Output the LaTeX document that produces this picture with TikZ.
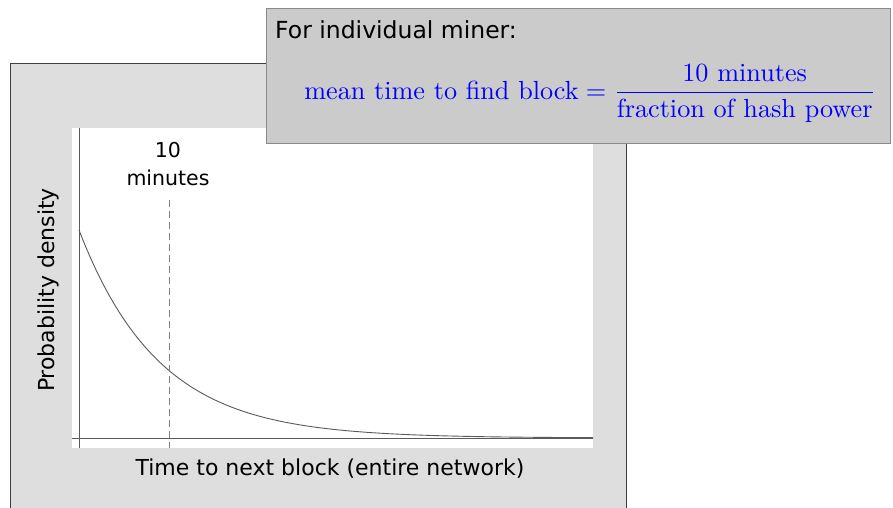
\documentclass[tikz,border=0pt]{standalone}
\usepackage{fontspec}
\usepackage{xcolor}
\usepackage{tikz}
\usetikzlibrary{positioning}
\newfontfamily\comic{DejaVu Sans}

\definecolor{panelgray}{HTML}{DEDEDE}
\definecolor{notegray}{HTML}{CBCBCB}
\definecolor{noteedge}{HTML}{8A8A8A}
\definecolor{axisgray}{HTML}{5A5A5A}
\definecolor{mathblue}{HTML}{0000FF}

\tikzset{
  panel/.style={fill=panelgray, draw=black!75, line width=0.9pt},
  plotarea/.style={fill=white, draw=none},
  note/.style={rectangle, fill=notegray, draw=noteedge, line width=1pt, inner sep=0pt},
  lbl/.style={font=\comic\fontsize{22}{28}\selectfont, inner sep=0pt},
  tick/.style={font=\comic\fontsize{20.5}{28}\selectfont, inner sep=0pt},
  head/.style={font=\comic\fontsize{23.5}{28}\selectfont, inner sep=0pt},
  axis/.style={draw=axisgray, line width=0.8pt},
  curve/.style={draw=axisgray, line width=0.9pt},
  guide/.style={draw=gray, line width=1pt, dash pattern=on 7pt off 4pt}
}

\begin{document}
\begin{tikzpicture}[x=1pt, y=-1pt]
	\path[use as bounding box, clip] (0,0) rectangle (893,507);

	% Plot panel
	\draw[panel] (10,520) -- (10,63) -- (626,63) -- (626,520);
	\fill[plotarea] (72,128) rectangle (593,448);

	% Axes
	\coordinate (ytop) at (79,128);
	\coordinate (ybot) at (79,448);
	\coordinate (xleft) at (72,438);
	\coordinate (xright) at (593,438);
	\draw[axis] (ytop) -- (ybot);
	\draw[axis] (xleft) -- (xright);

	% Density curve
	\draw[curve] plot[domain=79:593, samples=120, smooth] (\x, {438-208*exp(-(\x-79)/80)});

	% Mean marker
	\node[tick, align=center] (mean) at (168,164) {10\\minutes};
	\coordinate (dtop) at (169,200);
	\coordinate (dbot) at (169,448);
	\draw[guide] (dtop) -- (dbot);

	% Axis labels
	\node[lbl, rotate=90] (ylab) at (48,290) {Probability density};
	\node[lbl] (xlab) at (330,469) {Time to next block (entire network)};

	% Note box
	\node[note, minimum width=624pt, minimum height=135pt, anchor=north west] (box) at (266,8) {};
	\node[head, anchor=west] (title) at (275,30) {For individual miner:};
	\node[text=mathblue, scale=2.62, inner sep=0pt] (eq) at (590,93)
		{$\mbox{mean time to find block} = \displaystyle\frac{\mbox{10 minutes}}{\mbox{fraction of hash power}}$};
\end{tikzpicture}
\end{document}
